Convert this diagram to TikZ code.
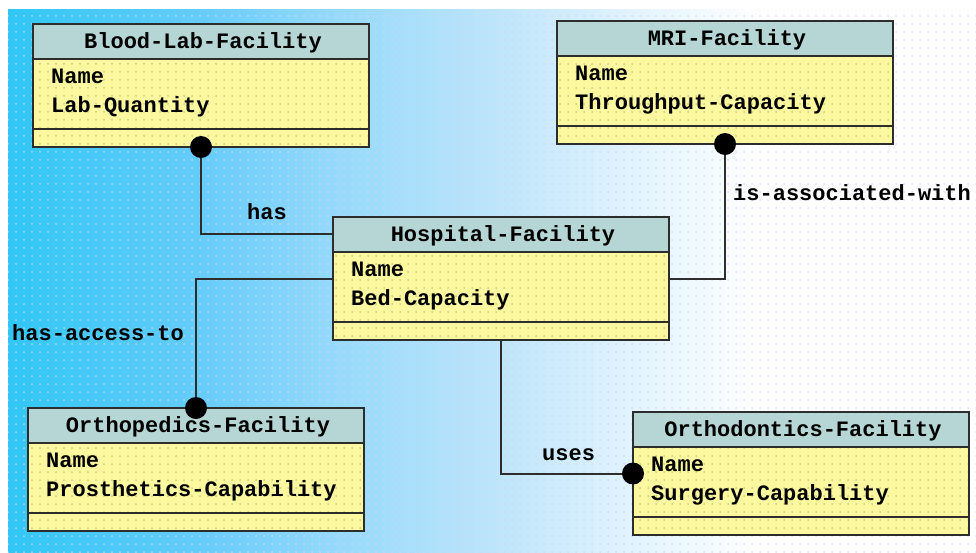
\documentclass[tikz,border=0pt]{standalone}
\usepackage{fontspec}
\setmainfont{Liberation Mono}
\usetikzlibrary{patterns.meta,calc}
\definecolor{hdr}{RGB}{182,214,214}
\definecolor{bodyc}{RGB}{252,248,160}
\definecolor{edgec}{RGB}{45,45,45}
\definecolor{bgdot}{RGB}{205,215,245}
\definecolor{ydot}{RGB}{205,200,120}
\pgfdeclarehorizontalshading{bgshade}{100bp}{rgb(0bp)=(0.19,0.78,0.96); rgb(25bp)=(0.19,0.78,0.96); rgb(35bp)=(0.40,0.80,0.98); rgb(41.5bp)=(0.58,0.85,0.98); rgb(50.5bp)=(0.75,0.90,0.98); rgb(58bp)=(0.90,0.96,1); rgb(64bp)=(1,1,1); rgb(100bp)=(1,1,1)}
\tikzdeclarepattern{name=bgdots, type=uncolored, bottom left={(-1pt,-1pt)}, top right={(7pt,7pt)}, tile size={(8pt,8pt)}, code={\fill (0pt,0pt) circle (1pt);}}
\tikzset{
  txt/.style={font=\fontsize{22}{26}\selectfont\bfseries, inner sep=0pt, text=black},
  classbox/.style={draw=edgec, line width=2pt, minimum width=336pt, minimum height=123pt, inner sep=0pt, outer sep=0pt, anchor=north west},
  sep/.style={draw=edgec, line width=2pt},
  conn/.style={draw=edgec, line width=2pt},
  dotend/.style={fill=black}
}
\newcommand{\umlclass}[6]{%
  \begin{scope}[shift={(#2,#3)}]
    \fill[bodyc] (0,0) rectangle (336,123);
    \fill[pattern=bgdots, pattern color=ydot] (0,35) rectangle (336,123);
    \fill[hdr] (0,0) rectangle (336,35);
    \draw[sep] (0,35) -- (336,35);
    \draw[sep] (0,105) -- (336,105);
    \node[classbox] (#1) at (0,0) {};
    \node[txt, anchor=base] (#1-title) at (170,24) {#4};
    \node[txt, anchor=base west] (#1-a) at (18,59) {#5};
    \node[txt, anchor=base west] (#1-b) at (18,88) {#6};
  \end{scope}}
\begin{document}
\begin{tikzpicture}[x=1pt,y=-1pt]
\useasboundingbox (0,0) rectangle (976,552);
\shade[shading=bgshade] (8,9) rectangle (976,552);
\fill[pattern=bgdots, pattern color=bgdot, fill opacity=0.8] (8,9) rectangle (976,552);

\umlclass{blood}{33}{24}{Blood-Lab-Facility}{Name}{Lab-Quantity}
\umlclass{mri}{557}{21}{MRI-Facility}{Name}{Throughput-Capacity}
\umlclass{hosp}{333}{217}{Hospital-Facility}{Name}{Bed-Capacity}
\umlclass{pedic}{28}{408}{Orthopedics-Facility}{Name}{Prosthetics-Capability}
\umlclass{dont}{633}{412}{Orthodontics-Facility}{Name}{Surgery-Capability}

\coordinate (hosphdr) at ($(hosp.north west)+(0,17)$);
\draw[conn] (blood.south) |- (hosphdr);
\draw[conn] (hosp.west) -| (pedic.north);
\draw[conn] (hosp.east) -| (mri.south);
\draw[conn] (hosp.south) |- (dont.west);

\fill[dotend] (blood.south) circle (11pt);
\fill[dotend] (mri.south) circle (11pt);
\fill[dotend] (pedic.north) circle (11pt);
\fill[dotend] (dont.west) circle (11pt);

\node[txt, anchor=base west] (lhas) at (247,219) {has};
\node[txt, anchor=base west] (lacc) at (12,340) {has-access-to};
\node[txt, anchor=base west] (lassoc) at (733,200) {is-associated-with};
\node[txt, anchor=base west] (luses) at (542,460) {uses};
\end{tikzpicture}
\end{document}
